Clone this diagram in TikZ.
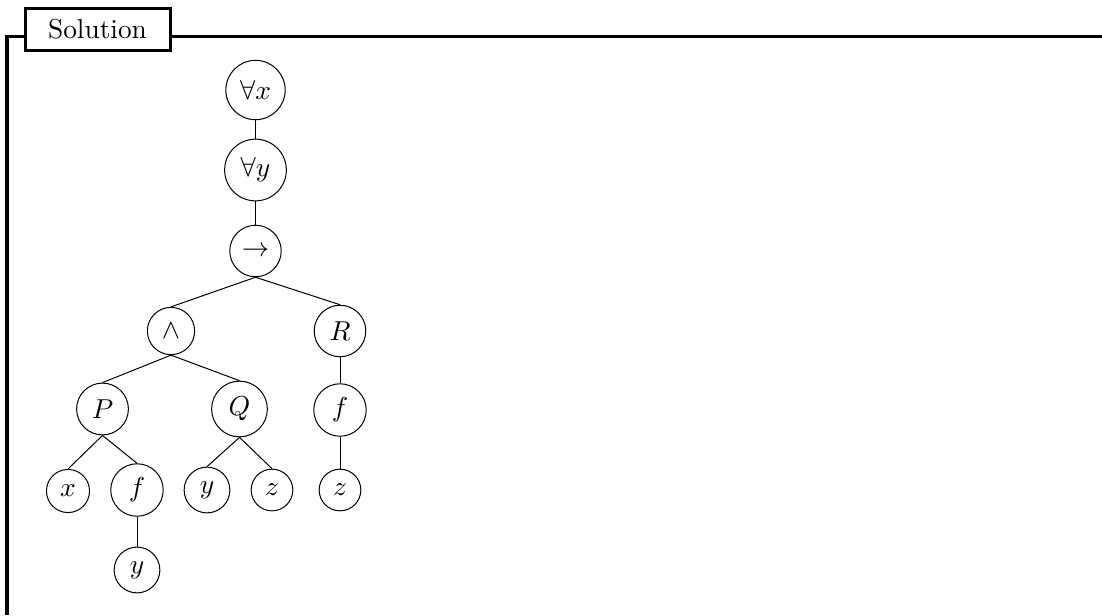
\documentclass[tikz,border=0pt]{standalone}
\begin{document}
\begin{tikzpicture}[x=0.4pt,y=-0.4pt,
  every node/.style={font=\fontsize{10.95}{13.6}\selectfont},
  tn/.style={circle,draw,line width=0.4pt,inner sep=0.3333em},
  edge/.style={line width=0.4pt},
  frameline/.style={line width=1.2pt},
  titlebox/.style={draw,fill=white,line width=1.2pt,minimum width=145*0.4pt,minimum height=42*0.4pt,inner sep=0pt}]
\useasboundingbox (0,0) rectangle (1102,615);
% frame
\coordinate (fl) at (7,615);
\coordinate (fc) at (7,36);
\coordinate (fr) at (1102,36);
\draw[frameline] (fl) -- (fc) -- (fr);
\node[titlebox] (title) at (97.5,29) {Solution};
% tree
\node[tn] (ax) at (255.5,90) {$\forall x$};
\node[tn] (ay) at (255.5,170) {$\forall y$};
\node[tn] (imp) at (255.5,251) {$\rightarrow$};
\node[tn] (and) at (171,331) {$\wedge$};
\node[tn] (R) at (340,331) {$R$};
\node[tn] (P) at (102.5,409) {$P$};
\node[tn] (Q) at (239.5,409) {$Q$};
\node[tn] (fR) at (340,410) {$f$};
\node[tn] (x) at (68,491) {$x$};
\node[tn] (fP) at (137,490) {$f$};
\node[tn] (yQ) at (207,490) {$y$};
\node[tn] (zQ) at (272,490) {$z$};
\node[tn] (zR) at (340,490) {$z$};
\node[tn] (yf) at (137,570) {$y$};
\draw[edge] (ax.south) -- (ay.north);
\draw[edge] (ay.south) -- (imp.north);
\draw[edge] (imp.south) -- (and.north);
\draw[edge] (imp.south) -- (R.north);
\draw[edge] (and.south) -- (P.north);
\draw[edge] (and.south) -- (Q.north);
\draw[edge] (R.south) -- (fR.north);
\draw[edge] (P.south) -- (x.north);
\draw[edge] (P.south) -- (fP.north);
\draw[edge] (Q.south) -- (yQ.north);
\draw[edge] (Q.south) -- (zQ.north);
\draw[edge] (fR.south) -- (zR.north);
\draw[edge] (fP.south) -- (yf.north);
\end{tikzpicture}
\end{document}
